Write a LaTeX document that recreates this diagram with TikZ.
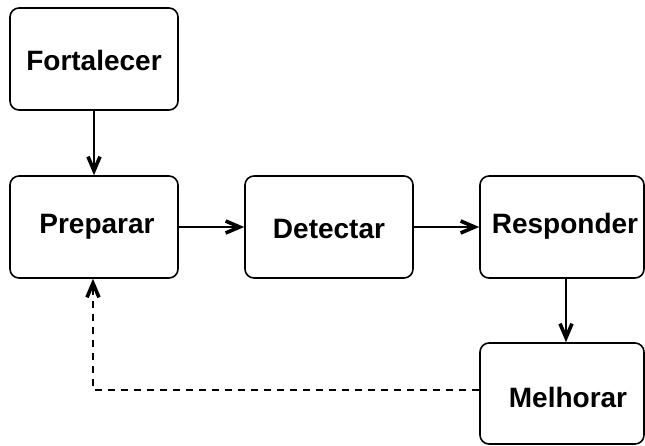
\documentclass[tikz,border=0pt]{standalone}
\usepackage{fontspec}
\setmainfont{Liberation Sans}
\usetikzlibrary{arrows.meta}
\tikzset{
  box/.style={draw, line width=1.6pt, rounded corners=9pt, minimum width=168pt, minimum height=102pt, inner sep=0pt},
  lbl/.style={font=\fontsize{28}{30}\selectfont\bfseries},
  arr/.style={line width=1.6pt, arrows={-Straight Barb[length=14pt,width=12pt,line width=3.6pt]}}
}
\begin{document}
\begin{tikzpicture}[x=1pt,y=-1pt]
\useasboundingbox (0,0) rectangle (645,445);
\node[box] (fort) at (94,59) {};
\node[lbl] (fortt) at (94,60) {Fortalecer};
\node[box] (prep) at (94,227) {};
\node[lbl] (prept) at (97,227) {Preparar};
\node[box] (det) at (329,227) {};
\node[lbl] (dett) at (329,229) {Detectar};
\node[box, minimum width=164pt] (resp) at (562,227) {};
\node[lbl] (respt) at (565,226) {Responder};
\node[box, minimum width=164pt, minimum height=101pt] (melh) at (562,393.5) {};
\node[lbl] (melht) at (568,397) {Melhorar};
\draw[arr] (fort.south) -- (prep.north);
\draw[arr] (prep.east) -- (det.west);
\draw[arr] (det.east) -- (resp.west);
\draw[arr] ([xshift=4pt]resp.south) -- ([xshift=4pt]melh.north);
\draw[arr, dash pattern=on 7pt off 6pt] ([yshift=3.5pt]melh.west) -| ([xshift=-1pt]prep.south);
\end{tikzpicture}
\end{document}
